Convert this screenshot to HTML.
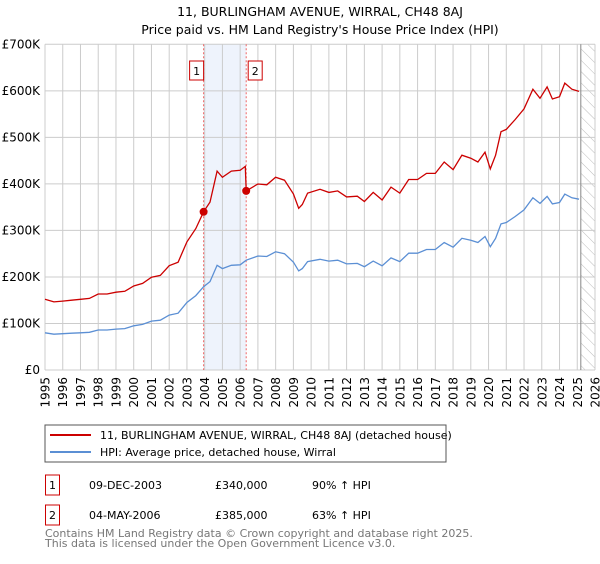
<!DOCTYPE html>
<html><head><meta charset="utf-8"><style>
body{margin:0;background:#fff;width:600px;height:560px;overflow:hidden;font-family:"DejaVu Sans","Liberation Sans",sans-serif}
svg text{font-family:"DejaVu Sans","Liberation Sans",sans-serif}
</style></head><body>
<svg id="c" width="600" height="560" xmlns="http://www.w3.org/2000/svg">
<text x="320" y="16" text-anchor="middle" font-size="12.5">11, BURLINGHAM AVENUE, WIRRAL, CH48 8AJ</text>
<text x="320" y="34" text-anchor="middle" font-size="12.5">Price paid vs. HM Land Registry's House Price Index (HPI)</text>
<g id="grid"></g>
<g id="marks"></g>
<g id="axes"></g>
<rect x="45" y="425" width="401" height="37" fill="#fff" stroke="#555"/>
<line x1="50" y1="435" x2="91" y2="435" stroke="#cc0000" stroke-width="2"/>
<text x="100" y="439" font-size="11">11, BURLINGHAM AVENUE, WIRRAL, CH48 8AJ (detached house)</text>
<line x1="50" y1="452" x2="91" y2="452" stroke="#5b8fd4" stroke-width="2"/>
<text x="100" y="456" font-size="11">HPI: Average price, detached house, Wirral</text>
<g id="tbl"></g>
<text x="45" y="537" font-size="11" fill="#777">Contains HM Land Registry data © Crown copyright and database right 2025.</text>
<text x="45" y="547" font-size="11" fill="#777">This data is licensed under the Open Government Licence v3.0.</text>
</svg>
<script>
const hpiYears=[1995,1995.5,1996,1996.5,1997,1997.5,1998,1998.5,1999,1999.5,2000,2000.5,2001,2001.5,2002,2002.5,2003,2003.5,2003.94,2004.3,2004.7,2005,2005.5,2006,2006.34,2007,2007.5,2008,2008.5,2009,2009.3,2009.5,2009.8,2010.5,2011,2011.5,2012,2012.6,2013,2013.5,2014,2014.5,2015,2015.5,2016,2016.5,2017,2017.5,2018,2018.5,2019,2019.4,2019.8,2020.1,2020.4,2020.7,2021,2021.5,2022,2022.5,2022.9,2023.3,2023.6,2024,2024.3,2024.7,2025.1];
const hpiValues=[80,77,78,79,80,81,86,86,88,89,95,98,105,107,118,122,145,160,179,190,225,218,225,226,236,245,244,254,250,232,213,218,233,238,234,236,228,229,222,234,224,241,233,251,251,259,259,274,264,283,279,274,287,265,283,314,317,330,344,370,358,373,357,360,378,370,367];
const saleYears=[2003.94,2006.34];
const salePrices=[340,385];
const saleLabels=["1","2"];
const saleDates=["09-DEC-2003","04-MAY-2006"];
const salePriceText=["£340,000","£385,000"];
const salePctText=["90% ↑ HPI","63% ↑ HPI"];
const yTicks=[0,100,200,300,400,500,600,700];
const yTickLabels=["£0","£100K","£200K","£300K","£400K","£500K","£600K","£700K"];
const xTicks=[1995,1996,1997,1998,1999,2000,2001,2002,2003,2004,2005,2006,2007,2008,2009,2010,2011,2012,2013,2014,2015,2016,2017,2018,2019,2020,2021,2022,2023,2024,2025,2026];
const NS="http://www.w3.org/2000/svg";
const X0=45,X1=595,Y0=370,Y1=44.3;
const x=v=>X0+(v-1995)/31*(X1-X0);
const y=v=>Y0-v/700*(Y0-Y1);
function mk(tag,attrs,parent){const e=document.createElementNS(NS,tag);for(const k in attrs)e.setAttribute(k,attrs[k]);parent.appendChild(e);return e;}
const grid=document.getElementById('grid'),marks=document.getElementById('marks'),axes=document.getElementById('axes'),tbl=document.getElementById('tbl');
function hpiAt(t){for(let i=0;i<hpiYears.length-1;i++){if(t<=hpiYears[i+1]){const f=(t-hpiYears[i])/(hpiYears[i+1]-hpiYears[i]);return hpiValues[i]+f*(hpiValues[i+1]-hpiValues[i]);}}return hpiValues[hpiValues.length-1];}
const band=mk('rect',{x:x(saleYears[0]),y:Y1,width:x(saleYears[1])-x(saleYears[0]),height:Y0-Y1,fill:'#eef3fc'},grid);


const defs=mk('defs',{},grid);
const pat=mk('pattern',{id:'h',width:8,height:8,patternUnits:'userSpaceOnUse',patternTransform:'rotate(-45)'},defs);
mk('line',{x1:0,y1:0,x2:0,y2:8,stroke:'#bbb','stroke-width':1},pat);
const hx=x(2025.2);
const hatch=mk('rect',{x:hx,y:Y1,width:X1-hx,height:Y0-Y1,fill:'url(#h)'},grid);


xTicks.forEach(t=>{const l=mk('line',{x1:x(t),x2:x(t),y1:Y1,y2:Y0,stroke:'#ccc','stroke-width':1},grid);

});
yTicks.forEach(t=>{const l=mk('line',{x1:X0,x2:X1,y1:y(t),y2:y(t),stroke:'#ccc','stroke-width':1},grid);

});
const hl=mk('line',{x1:hx,x2:hx,y1:Y1,y2:Y0,stroke:'#888','stroke-width':1},grid);


saleYears.forEach((s,i)=>{const l=mk('line',{x1:x(s),x2:x(s),y1:Y1,y2:Y0,stroke:'#e66','stroke-width':1,'stroke-dasharray':'2,2'},marks);


const bx=x(s)-(i==0?14:-2);
const r=mk('rect',{x:bx,y:61,width:14,height:19,fill:'#fff',stroke:'#cc0000'},marks);


const tx=mk('text',{x:bx+7,y:75,'text-anchor':'middle','font-size':11},marks);tx.textContent=saleLabels[i];

});
const hp=hpiYears.map((t,i)=>(i?'L':'M')+x(t).toFixed(1)+','+y(hpiValues[i]).toFixed(1)).join('');
const hpl=mk('path',{d:hp,fill:'none',stroke:'#5b8fd4','stroke-width':1.3},marks);


const r1=salePrices[0]/hpiAt(saleYears[0]),r2=salePrices[1]/hpiAt(saleYears[1]);
let pts=[];
hpiYears.forEach((t,i)=>{if(t<saleYears[1]-0.05)pts.push([t,hpiValues[i]*r1]);});
pts.push([saleYears[1]-0.05,hpiAt(saleYears[1]-0.05)*r1-8]);
pts.push([saleYears[1],salePrices[1]]);
hpiYears.forEach((t,i)=>{if(t>saleYears[1])pts.push([t,hpiValues[i]*r2]);});
const pp=pts.map((p,i)=>(i?'L':'M')+x(p[0]).toFixed(1)+','+y(p[1]).toFixed(1)).join('');
const prl=mk('path',{d:pp,fill:'none',stroke:'#cc0000','stroke-width':1.3},marks);


saleYears.forEach((s,i)=>{const c=mk('circle',{cx:x(s),cy:y(salePrices[i]),r:4,fill:'#cc0000'},marks);

});
yTicks.forEach((t,i)=>{const tx=mk('text',{x:40,y:y(t)+4,'text-anchor':'end','font-size':12},axes);tx.textContent=yTickLabels[i];

});
xTicks.forEach(t=>{const tx=mk('text',{x:0,y:0,'text-anchor':'end','font-size':12,transform:`translate(${x(t)+4.5},${377}) rotate(-90)`},axes);tx.textContent=t;

});
saleLabels.forEach((lb,i)=>{const yy=475+i*30;
const r=mk('rect',{x:45.5,y:yy,width:14,height:20,fill:'#fff',stroke:'#cc0000'},tbl);


const cols=[[52.5,lb,'middle'],[89,saleDates[i],'start'],[215,salePriceText[i],'start'],[312,salePctText[i],'start']];
const nm=['row-label','sale-date','sale-price','hpi-change'];
cols.forEach((c,j)=>{const tx=mk('text',{x:c[0],y:yy+14,'font-size':11,'text-anchor':c[2]},tbl);tx.textContent=c[1];

});});
</script>
</body></html>
